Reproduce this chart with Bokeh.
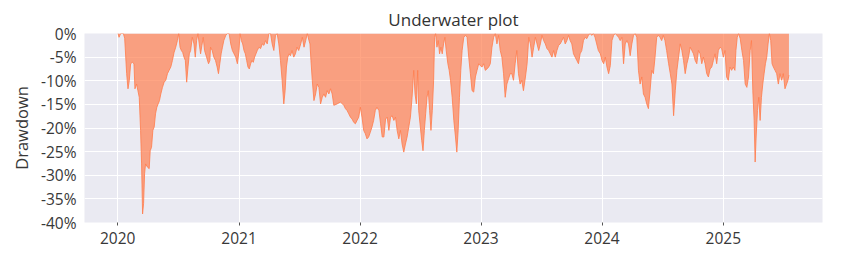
import pandas as pd
from bokeh.plotting import figure
from bokeh.models import Range1d, FixedTicker, PrintfTickFormatter, DatetimeTickFormatter, ColumnDataSource
from bokeh.embed import file_html
from bokeh.resources import INLINE

# ---- data ----
start_date = "2020-01-01"
# calendar days since start_date
day_offsets = [
    1, 4, 9, 17, 21, 27, 31, 35, 39, 44, 49, 52, 57, 61, 65, 69, 72, 75, 78, 81,
    84, 90, 95, 98, 102, 106, 110, 114, 118, 122, 126, 130, 135, 140, 145, 150, 155, 160, 165, 170,
    175, 180, 184, 188, 192, 196, 200, 204, 208, 212, 216, 220, 225, 230, 234, 238, 242, 246, 250, 254,
    258, 262, 268, 274, 278,
    280, 285, 290, 295, 300, 304, 308, 312, 316, 320, 326, 331, 336, 341, 346, 351, 356, 361, 366, 369,
    373, 377, 381, 385, 389, 393, 397, 401, 405, 409, 413, 417, 421, 426, 431, 436, 441, 446, 451, 456,
    461, 466, 471, 476, 481, 486, 491, 496, 501, 505, 509, 513, 517, 521, 526, 531, 536, 541, 546, 552,
    557, 562, 567, 572, 577, 580,
    583, 587, 592, 597, 602, 607, 612, 617, 622, 627, 632, 637, 642, 647, 652, 662, 672, 682, 687, 692,
    697, 702, 707, 712, 717, 722, 727, 732, 737, 742, 747, 752, 757, 762, 767, 772, 777, 782, 788, 793,
    798, 803, 808, 813, 818, 823, 828, 833, 838, 843, 848, 853, 858, 863, 868, 873, 878,
    883, 888, 893, 897, 901, 905, 908, 913, 917, 921, 925, 929, 933, 937, 941, 945, 949, 953, 956, 959,
    963, 967, 971, 975, 979, 983, 987, 991, 996, 1000, 1004, 1009, 1014, 1019, 1023, 1027, 1031, 1035, 1039, 1044,
    1049, 1054, 1059, 1064, 1069, 1074, 1079, 1084, 1089, 1094, 1099, 1104, 1109, 1114, 1119, 1124, 1129, 1134, 1139, 1144,
    1149, 1154, 1159, 1164, 1169, 1174, 1179,
    1184, 1189, 1194, 1199, 1204, 1209, 1214, 1219, 1224, 1230, 1235, 1240, 1245, 1250, 1255, 1260, 1265, 1270, 1275, 1280,
    1285, 1290, 1295, 1300, 1305, 1310, 1315, 1320, 1325, 1330, 1335, 1340, 1345, 1350, 1355, 1360, 1365, 1370, 1375, 1380,
    1385, 1390, 1395, 1400, 1405, 1410, 1415, 1420, 1425, 1430, 1435, 1440, 1445, 1450, 1456, 1461, 1466, 1471, 1476, 1481,
    1486, 1491, 1496, 1501, 1506, 1511, 1516, 1521, 1526, 1531, 1536, 1541, 1546, 1551, 1556, 1561, 1566, 1571, 1576, 1581,
    1586, 1591, 1596, 1601, 1606, 1611, 1616, 1621, 1626, 1631, 1636, 1641, 1646, 1651, 1656, 1662, 1667, 1672, 1677, 1682,
    1687, 1692, 1697, 1702, 1707, 1712, 1717, 1722, 1727, 1732, 1737, 1742, 1747, 1752, 1757, 1762, 1767, 1772, 1777, 1782,
    1787, 1792, 1797, 1802, 1807, 1812, 1817, 1822, 1827, 1832, 1837, 1842, 1847, 1852, 1857, 1862, 1865, 1869, 1873, 1878,
    1883, 1888, 1893, 1898, 1903, 1908, 1912, 1916, 1920, 1923, 1926, 1930, 1934, 1938, 1942, 1946, 1950, 1954, 1958, 1962,
    1966, 1970, 1974, 1978, 1983, 1988, 1993, 1998, 2003, 2008, 2013, 2018, 2022, 2025,
]
# drawdown in percent
drawdown_pct = [
    0.0, -0.8, 0.0, 0.0, -1.0, -8.5, -11.7, -9.9, -6.4, -6.1, -6.4, -11.7, -10.7, -12.1, -13.5, -20.5, -27.6, -38.2, -36.0, -29.7,
    -27.6, -28.3, -28.6, -24.8, -24.1, -20.5, -19.8, -17.0, -15.6, -14.9, -14.2, -12.8, -11.4, -10.3, -9.9, -8.5, -7.8, -7.1, -5.7, -4.0,
    -2.9, -1.5, 0.0, -2.9, -3.6, -4.0, -5.0, -5.7, -10.3, -7.1, -4.3, -3.6, -0.8, -2.2, -5.0, -1.5, 0.0, -2.2, -4.3, -2.5,
    -0.8, -3.6, -5.0, -6.4, -5.7,
    -2.9, -3.6, -5.0, -5.7, -7.1, -8.5, -6.4, -4.3, -2.9, -1.5, -0.4, 0.0, 0.0, -2.2, -3.6, -4.3, -5.0, -6.4, -3.6, 0.0,
    -1.5, -2.2, -3.6, -4.3, -5.7, -7.1, -7.5, -6.4, -5.7, -6.1, -5.0, -4.3, -3.6, -2.9, -3.2, -2.2, -2.5, -1.5, -2.2, 0.0,
    0.0, -2.2, -3.6, -0.4, 0.0, -2.2, -5.7, -9.9, -14.9, -12.1, -7.1, -5.0, -4.3, -4.7, -3.6, -5.0, -4.3, -2.9, -3.6, -2.2,
    -0.8, -2.9, -1.5, 0.0, -1.5, -2.2,
    -5.7, -9.9, -14.2, -12.8, -10.7, -11.4, -14.9, -13.5, -12.8, -13.5, -12.1, -12.8, -11.7, -12.8, -15.2, -14.9, -14.5, -15.2, -15.9, -16.3,
    -17.0, -17.7, -18.1, -18.8, -19.1, -18.4, -17.7, -15.6, -17.7, -20.5, -21.2, -22.3, -21.9, -20.9, -19.8, -18.4, -16.3, -15.6, -16.3, -19.1,
    -21.9, -21.9, -18.1, -17.7, -20.5, -17.7, -17.4, -18.4, -17.7, -20.5, -22.3, -20.5, -23.4, -25.1, -23.4, -21.9, -19.8,
    -17.7, -13.5, -7.8, -12.8, -14.9, -7.8, -16.3, -19.8, -22.6, -24.8, -20.5, -17.0, -13.5, -12.1, -16.3, -20.5, -16.3, -9.9, -0.8, 0.0,
    -2.9, -1.5, -4.3, -2.9, -4.3, -2.2, -0.8, -3.6, -6.4, -7.8, -9.9, -13.5, -18.4, -21.9, -25.1, -20.5, -13.5, -7.8, -3.6, -0.8,
    -0.4, -0.8, -5.0, -8.5, -12.1, -12.4, -9.2, -7.8, -6.4, -6.8, -7.1, -6.4, -7.8, -7.5, -7.1, -6.4, -2.9, -0.8, 0.0, -2.2,
    -0.4, -3.6, -5.0, -8.5, -13.5, -10.7, -9.6,
    -8.5, -8.5, -9.9, -6.4, -3.6, -8.5, -10.7, -9.9, -12.1, -9.2, -6.4, -0.8, -2.2, -5.0, -2.9, -0.8, -2.2, -3.6, -2.2, -0.4,
    -1.5, -2.2, -3.2, -3.6, -4.3, -5.0, -3.6, -5.0, -3.6, -2.5, -2.2, -1.5, -0.8, -2.2, -1.5, -0.4, -1.5, -2.2, -4.3, -5.0,
    -5.7, -6.4, -4.3, -3.6, -1.5, -0.8, -1.1, -0.4, 0.0, -0.4, 0.0, -0.8, -2.2, -3.6, -4.3, -5.7, -6.4, -5.0, -7.1, -8.5,
    -6.8, -1.5, -0.4, 0.0, -0.4, -0.8, -1.5, -0.8, -6.4, -2.2, -1.5, -2.2, -4.7, -2.2, -0.4, 0.0, -0.8, -7.8, -10.7, -9.2,
    -12.8, -13.5, -14.9, -15.9, -12.1, -7.8, -8.5, -5.0, -0.8, -0.4, -0.8, -1.5, -0.4, -1.5, -3.6, -6.4, -8.5, -10.7, -17.4, -12.1,
    -7.8, -5.0, -2.2, -3.6, -5.7, -8.5, -6.4, -5.0, -2.9, -3.6, -4.3, -5.7, -6.4, -3.6, -4.3, -6.4, -5.0, -6.4, -8.5, -9.2,
    -7.5, -7.1, -5.7, -4.3, -6.4, -3.6, -2.9, -3.2, -5.0, -3.6, -9.2, -9.9, -7.1, -7.8, -7.1, -7.8, -3.6, -0.8, 0.0, -1.1,
    -3.6, -5.7, -10.7, -11.4, -9.2, -3.6, -1.5, -12.1, -18.4, -27.2, -21.9, -16.3, -13.5, -18.4, -13.5, -10.7, -8.5, -6.4, -5.0, -2.2,
    0.0, -1.5, -6.4, -7.1, -7.8, -8.5, -10.7, -8.5, -9.9, -8.5, -11.7, -10.7, -9.9, -8.8,
]
tick_years = [2020, 2021, 2022, 2023, 2024, 2025]
y_ticks = [-40, -35, -30, -25, -20, -15, -10, -5, 0]

dates = pd.Timestamp(start_date) + pd.to_timedelta(day_offsets, unit="D")
source = ColumnDataSource(data=dict(date=dates, dd=drawdown_pct))

span = dates[-1] - dates[0]
x_start = dates[0] - 0.05 * span
x_end = dates[-1] + 0.05 * span

FONT = "Open Sans"
TXT = "#383838"

p = figure(
    width=841, height=269,
    x_axis_type="datetime",
    x_range=Range1d(x_start, x_end),
    y_range=Range1d(-40, 0),
    output_backend="svg", toolbar_location=None,
    min_border_left=84, min_border_right=19, min_border_top=33, min_border_bottom=47,
    background_fill_color="#EAEAF2", border_fill_color="white",
    outline_line_color=None,
)

p.varea(x="date", y1="dd", y2=0, source=source, fill_color="#ff7f50", fill_alpha=0.7)
p.line(x="date", y="dd", source=source, line_color="#ff7f50", line_alpha=0.85, line_width=1)

p.title.text = "Underwater plot"
p.title.align = "center"
p.title.text_font = FONT
p.title.text_font_size = "17px"
p.title.text_font_style = "normal"
p.title.text_color = "#333333"
p.title.standoff = 5

year_ms = [pd.Timestamp(f"{y}-01-01").value // 10**6 for y in tick_years]
p.xaxis.ticker = FixedTicker(ticks=year_ms)
p.xaxis.formatter = DatetimeTickFormatter(
    years="%Y", months="%Y", days="%Y", hours="%Y", minutes="%Y", seconds="%Y",
    milliseconds="%Y", microseconds="%Y",
)
p.yaxis.ticker = FixedTicker(ticks=y_ticks)
p.yaxis.formatter = PrintfTickFormatter(format="%d%%")
p.yaxis.axis_label = "Drawdown"

for ax in (p.xaxis[0], p.yaxis[0]):
    ax.axis_line_color = None
    ax.minor_tick_line_color = None
    ax.major_label_text_font = FONT
    ax.major_label_text_font_size = "15.5px"
    ax.major_label_text_color = TXT
    ax.axis_label_text_font = FONT
    ax.axis_label_text_font_size = "16.5px"
    ax.axis_label_text_font_style = "normal"
    ax.axis_label_text_color = TXT

p.xaxis.major_tick_line_color = "#555555"
p.xaxis.major_tick_out = 3
p.xaxis.major_tick_in = 0
p.xaxis.major_label_standoff = 6
p.yaxis.major_tick_line_color = None
p.yaxis.major_tick_out = 0
p.yaxis.major_tick_in = 0
p.yaxis.major_label_standoff = 8
p.yaxis.axis_label_standoff = 5

p.xgrid.grid_line_color = "white"
p.ygrid.grid_line_color = "white"
p.xgrid.grid_line_width = 1
p.ygrid.grid_line_width = 1

open("out.html", "w").write(file_html(p, INLINE))
